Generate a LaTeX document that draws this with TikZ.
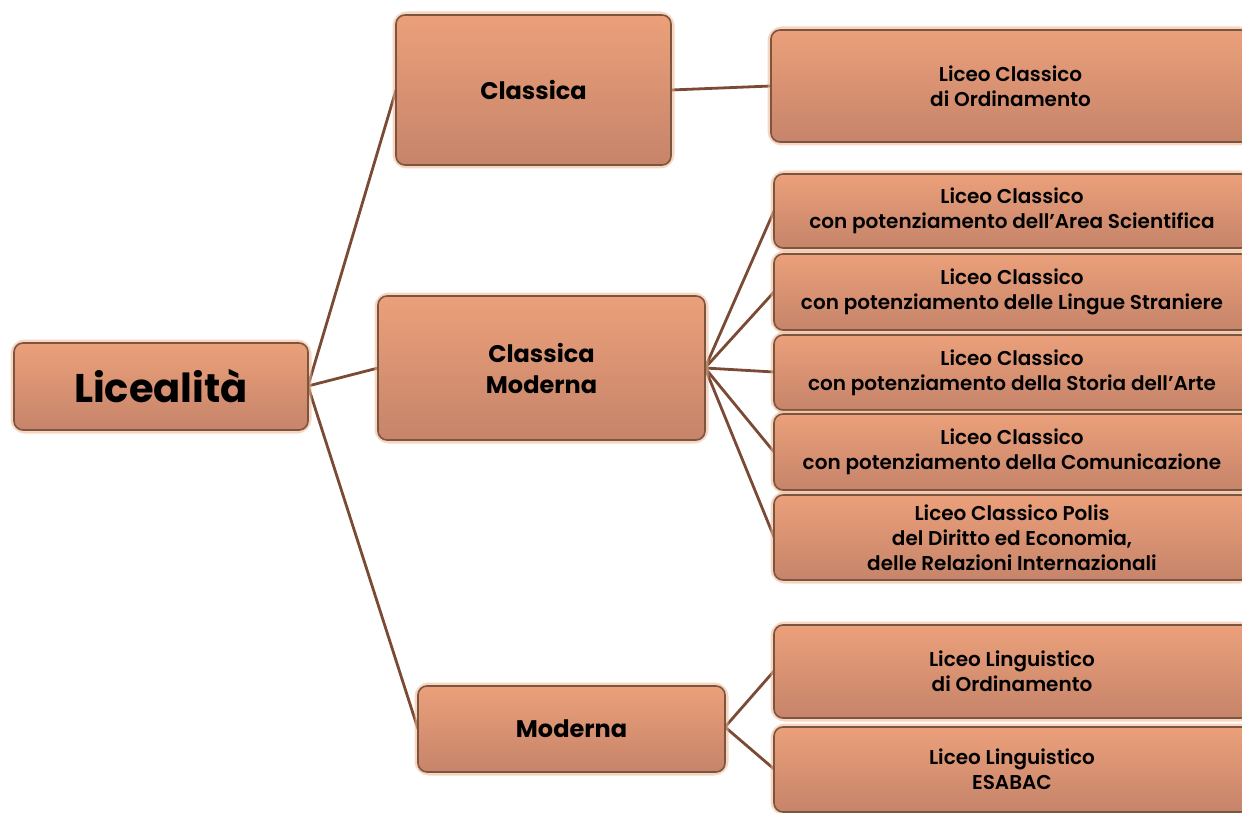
\documentclass[tikz,border=0pt]{standalone}
\usepackage{fontspec}
\setmainfont{Poppins}[BoldFont={* SemiBold}]
\newfontfamily\heavyfont{Poppins}[UprightFont={* Bold}]
\definecolor{boxtop}{HTML}{EBA07A}
\definecolor{boxbot}{HTML}{C6846A}
\definecolor{boxedge}{HTML}{7A5640}
\definecolor{link}{HTML}{7B4A35}
\definecolor{glow}{HTML}{F2B48E}
\tikzset{
  box/.style={rounded corners=9pt, draw=boxedge, line width=1.6pt,
    top color=boxtop, bottom color=boxbot, align=center, inner sep=0pt,
    text=black},
  bigtxt/.style={font=\heavyfont\fontsize{40}{44}\selectfont},
  midtxt/.style={font=\heavyfont\fontsize{24}{31}\selectfont},
  smalltxt/.style={font=\bfseries\fontsize{20}{25}\selectfont},
  glowbox/.style={rounded corners=11pt, draw=glow, line width=7pt, opacity=0.55},
  conn/.style={draw=link, line width=2.8pt},
}
\newcommand{\mybox}[7]{% name, style, x1, y1, x2, y2, text
  \draw[glowbox] (#3,#4) rectangle (#5,#6);
  \node[box, #2, minimum width=#5-#3, minimum height=#6-#4] (#1) at ({(#3+#5)/2},{(#4+#6)/2}) {#7};
}
\begin{document}
\begin{tikzpicture}[x=1pt,y=-1pt]
\useasboundingbox (0,0) rectangle (1242,813);
\fill[white] (0,0) rectangle (1242,813);
% connectors first
\coordinate (r0) at (308,386);
\coordinate (cm) at (705,368);
\coordinate (mo) at (725,727);
\draw[conn] (r0) -- (396,90);
\draw[conn] (r0) -- (378,368);
\draw[conn] (r0) -- (418,729);
\draw[conn] (671,90) -- (771,86);
\foreach \yy in {211,292,372,452,537} {\draw[conn] (cm) -- (774,\yy);}
\draw[conn] (mo) -- (774,671);
\draw[conn] (mo) -- (774,769);

\mybox{lic}{bigtxt}{14}{343}{308}{430}{Licealità}
\mybox{cla}{midtxt}{396}{15}{671}{165}{Classica}
\mybox{clm}{midtxt}{378}{296}{705}{440}{Classica\\Moderna}
\mybox{mod}{midtxt}{418}{686}{725}{772}{Moderna}
\mybox{o1}{smalltxt}{771}{30}{1250}{142}{Liceo Classico\\di Ordinamento}
\mybox{a}{smalltxt}{774}{174}{1250}{248}{Liceo Classico\\con potenziamento dell’Area Scientifica}
\mybox{b}{smalltxt}{774}{254}{1250}{330}{Liceo Classico\\con potenziamento delle Lingue Straniere}
\mybox{c}{smalltxt}{774}{335}{1250}{410}{Liceo Classico\\con potenziamento della Storia dell’Arte}
\mybox{d}{smalltxt}{774}{414}{1250}{490}{Liceo Classico\\con potenziamento della Comunicazione}
\mybox{e}{smalltxt}{774}{495}{1250}{580}{Liceo Classico Polis\\del Diritto ed Economia,\\delle Relazioni Internazionali}
\mybox{m1}{smalltxt}{774}{625}{1250}{718}{Liceo Linguistico\\di Ordinamento}
\mybox{m2}{smalltxt}{774}{727}{1250}{812}{Liceo Linguistico\\ESABAC}
\end{tikzpicture}
\end{document}
